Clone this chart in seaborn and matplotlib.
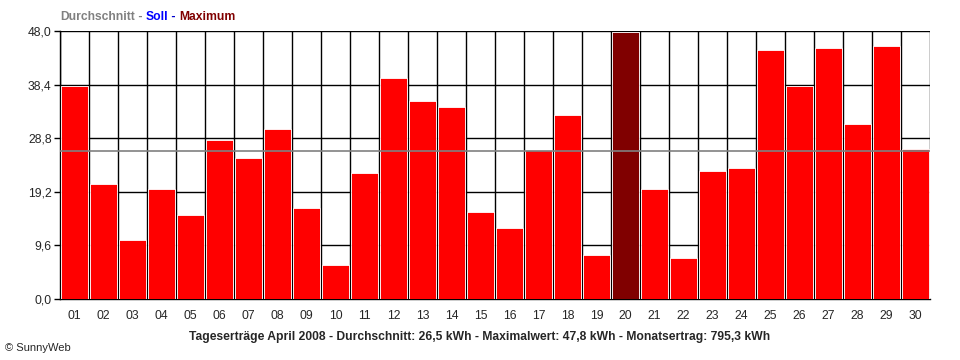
import matplotlib
matplotlib.use("Agg")
import matplotlib.pyplot as plt
import seaborn as sns
import pandas as pd
import numpy as np

days = [f"{i:02d}" for i in range(1, 31)]
yields = [38.2, 20.6, 10.6, 19.7, 15.1, 28.5, 25.3, 30.5, 16.3, 6.1,
          22.6, 39.6, 35.5, 34.4, 15.6, 12.7, 26.6, 33.0, 7.9, 47.8,
          19.7, 7.4, 22.9, 23.5, 44.6, 38.2, 45.0, 31.4, 45.3, 26.9]
average = 26.5
max_day = "20"
y_ticks = [0.0, 9.6, 19.2, 28.8, 38.4, 48.0]
y_labels = ["0,0", "9,6", "19,2", "28,8", "38,4", "48,0"]

sns.set_style("white")
plt.rcParams['font.family'] = ['Liberation Sans', 'DejaVu Sans']

df = pd.DataFrame({"day": days, "kwh": yields})
df["kind"] = np.where(df["day"] == max_day, "max", "normal")

fig = plt.figure(figsize=(9.6, 3.6), dpi=100)
ax = fig.add_axes([60/960, 1 - 299/360, 870/960, 268/360])

sns.barplot(data=df, x="day", y="kwh", hue="kind",
            palette={"normal": "#ff0000", "max": "#800000"},
            width=0.93, edgecolor="white", linewidth=0.6,
            legend=False, ax=ax, zorder=3, saturation=1)

ax.set_xlim(-0.5, len(days) - 0.5)
ax.set_ylim(0, 48)
ax.set_yticks(y_ticks)
ax.set_yticklabels(y_labels, fontsize=8.7)
ax.set_xticks(range(len(days)))
ax.set_xticklabels(days, fontsize=8.7)
ax.set_xticks(np.arange(-0.5, len(days), 1.0), minor=True)
ax.tick_params(axis="x", which="major", length=0, pad=8)
ax.tick_params(axis="x", which="minor", length=4, width=1, color="black", direction="out")
ax.tick_params(axis="y", which="major", length=4, width=1, color="black", direction="out", left=True, pad=2)
ax.grid(False)
ax.xaxis.grid(True, which="minor", color="black", linewidth=1, zorder=1)
ax.yaxis.grid(True, which="major", color="black", linewidth=1, zorder=1)
ax.set_axisbelow(True)
for s in ["left", "bottom"]:
    ax.spines[s].set_color("black")
    ax.spines[s].set_linewidth(1)
for s in ["top", "right"]:
    ax.spines[s].set_visible(False)
ax.set_xlabel("")
ax.set_ylabel("")

ax.axhline(average, color="#808080", linewidth=1.2, zorder=4)

# title line (coloured segments chained one after another)
parts = [("Durchschnitt", "#808080"), (" - ", "#808080"), ("Soll", "#0000ff"),
         (" - ", "#0000cc"), ("Maximum", "#800000")]
prev = fig.text(60/960, 1 - 17/360, parts[0][0], color=parts[0][1], fontsize=8.7,
                fontweight="bold", va="center", ha="left")
for txt, col in parts[1:]:
    prev = fig.text(0, 0, "\u00a0" + txt.strip() + "\u00a0" if txt.strip() == "-" else txt,
                    color=col, fontsize=8.7, fontweight="bold", va="center", ha="left")
fig.texts.clear()
x = 60/960
y = 1 - 17/360
fig.canvas.draw()
renderer = fig.canvas.get_renderer()
for txt, col in parts:
    s = "\u00a0-\u00a0" if txt.strip() == "-" else txt
    t = fig.text(x, y, s, color=col, fontsize=8.7, fontweight="bold", va="center", ha="left")
    bb = t.get_window_extent(renderer=renderer)
    x += bb.width / fig.bbox.width

fig.text(480/960, 1 - 337/360,
         "Tageserträge April 2008 - Durchschnitt: 26,5 kWh - Maximalwert: 47,8 kWh - Monatsertrag: 795,3 kWh",
         fontsize=8.7, fontweight="bold", ha="center", va="center")
fig.text(5/960, 1 - 348/360, "© SunnyWeb", fontsize=8, ha="left", va="center")

fig.savefig("out.png", dpi=100)
